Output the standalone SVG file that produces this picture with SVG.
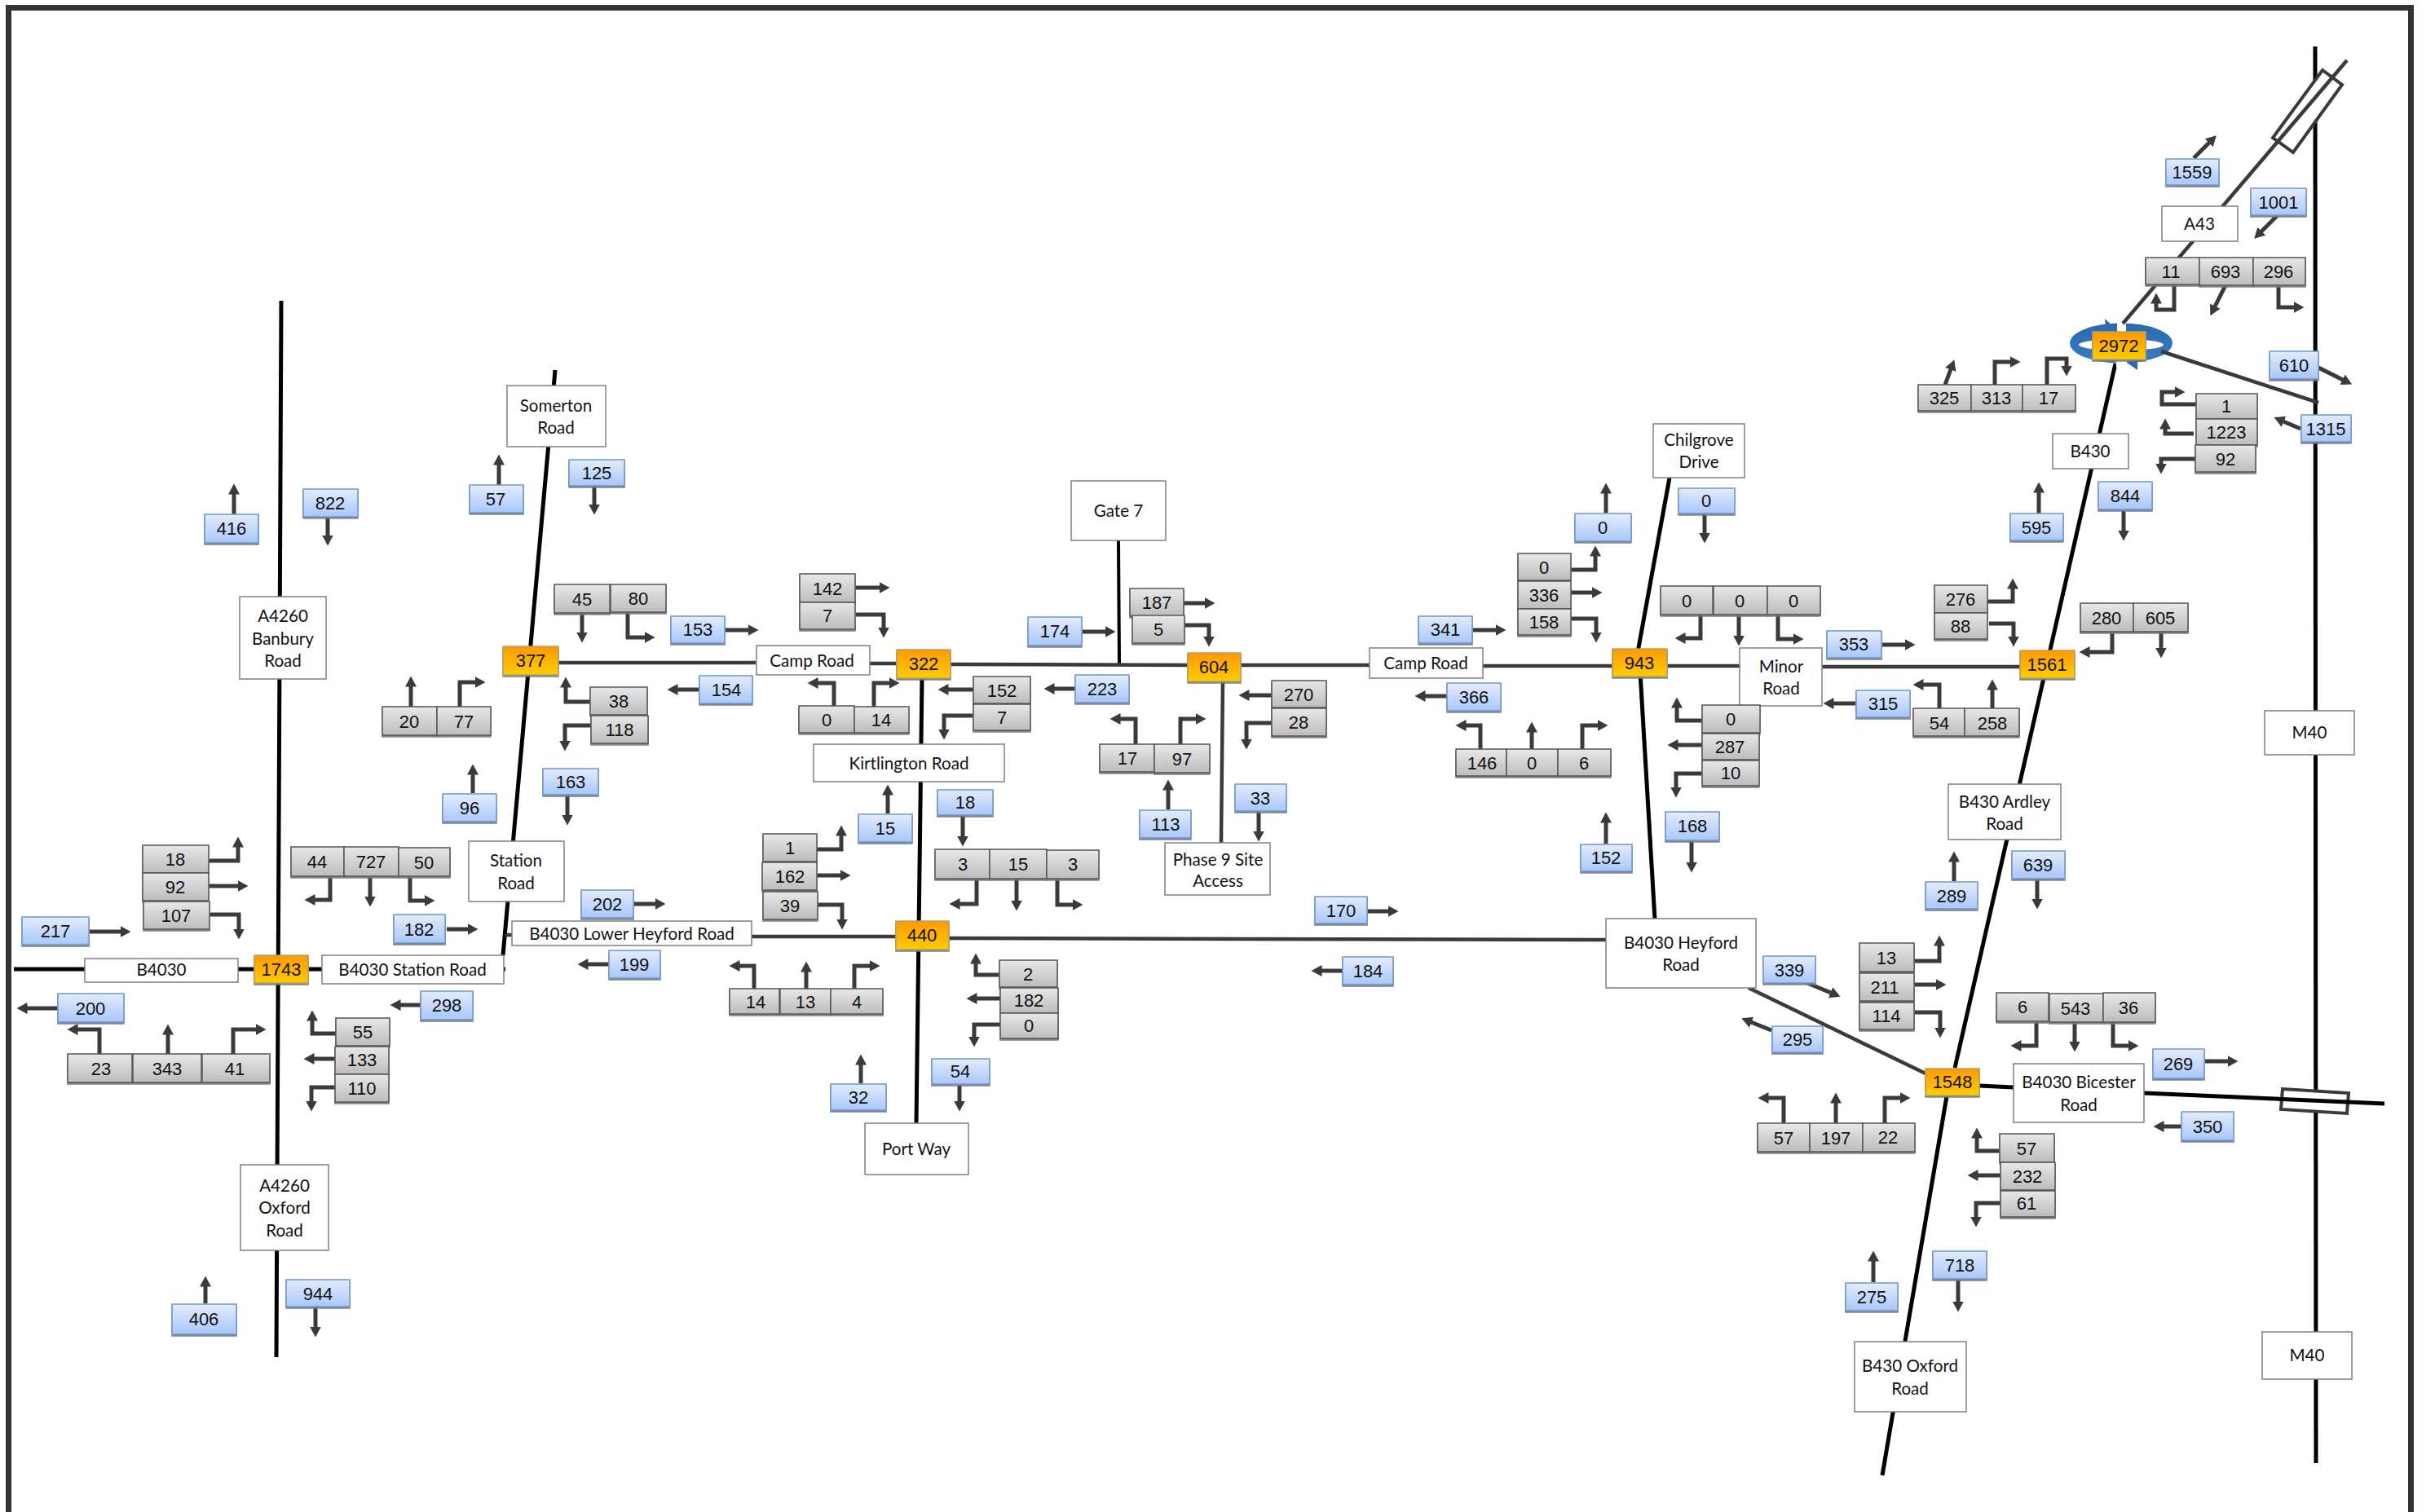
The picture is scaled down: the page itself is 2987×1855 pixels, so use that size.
<svg xmlns="http://www.w3.org/2000/svg" width="2987" height="1855" viewBox="0 0 2987 1855">
<style>
text{text-anchor:middle;fill:#111}
.n{font:22px "Liberation Sans",Arial,sans-serif}
.t{font:20.6px Lato,"Noto Sans",sans-serif}
.g{fill:url(#gg);stroke:#555;stroke-width:1.5;filter:url(#sh)}
.b{fill:url(#gb);stroke:#6f96cf;stroke-width:1.5;filter:url(#sh)}
.o{fill:url(#go);stroke:#b3a06a;stroke-width:1.5;filter:url(#sh)}
.l{fill:#fff;stroke:#808080;stroke-width:1.5}
.r{fill:none;stroke:#000;stroke-width:5}
.d{fill:none;stroke:#3a3a3a;stroke-width:4.5}
.a{fill:none;stroke:#3a3a3a;stroke-width:5;marker-end:url(#h)}
.x{fill:#fff;stroke:#3a3a3a;stroke-width:4}
</style>
<defs>
<linearGradient id="gg" x1="0" y1="0" x2="0" y2="1"><stop offset="0" stop-color="#e8e8e8"/><stop offset="1" stop-color="#bcbcbc"/></linearGradient>
<linearGradient id="gb" x1="0" y1="0" x2="0" y2="1"><stop offset="0" stop-color="#e4ecfc"/><stop offset="1" stop-color="#a8c7fb"/></linearGradient>
<linearGradient id="go" x1="0" y1="0" x2="0" y2="1"><stop offset="0" stop-color="#ff9900"/><stop offset="1" stop-color="#ffcc00"/></linearGradient>
<linearGradient id="gr" x1="0" y1="0" x2="0" y2="1"><stop offset="0" stop-color="#2a6ab0"/><stop offset="1" stop-color="#3a7abf"/></linearGradient>
<filter id="sh" x="-10%" y="-10%" width="120%" height="130%"><feDropShadow dx="0" dy="2" stdDeviation="0.6" flood-color="#777" flood-opacity="0.9"/></filter>
<marker id="h" markerUnits="userSpaceOnUse" markerWidth="15" markerHeight="15" refX="0.5" refY="7.5" orient="auto"><path d="M0,0.5L13,7.5L0,14.5Z" fill="#3a3a3a"/></marker>
</defs>
<rect id="frame" x="10.5" y="9.5" width="2947" height="1900" fill="#fff" stroke="#333" stroke-width="7"/>
<g id="connectors">
<path class="r" d="M2840,57L2841,1795"/>
<path class="r" d="M17,1189H620"/>
<path class="r" d="M345,369L339,1665"/>
<path class="r" d="M681,454L617,1172"/>
<path class="r" d="M1131,832L1124,1378"/>
<path class="r" d="M2048,586L2009,800"/>
<path class="r" d="M2012,825L2030,1128"/>
<path class="r" d="M2595,446L2398,1310"/>
<path class="r" d="M2388,1345L2309,1810"/>
<path class="r" d="M2428,1332L2470,1334"/>
<path class="r" style="stroke-width:4" d="M1372,663L1373,814"/>
<path class="d" d="M685,813H927"/>
<path class="d" d="M1067,814H1100"/>
<path class="d" d="M1166,815L1457,816"/>
<path class="d" d="M1522,816H1680"/>
<path class="d" d="M1819,817H1978"/>
<path class="d" d="M2045,817H2134"/>
<path class="d" d="M2235,818H2478"/>
<path class="d" d="M1500,836L1498,1034"/>
<path class="d" d="M620,1147H629"/>
<path class="d" d="M922,1149H1099"/>
<path class="d" d="M1164,1151L1970,1153"/>
<path class="d" d="M2145,1212L2362,1317"/>
<path class="x" d="M2849,86L2873,104L2813,187L2788,169Z"/>
<path class="x" d="M2800,1336L2881,1341L2879,1366L2798,1361Z"/>
<path class="r" d="M2630,1341L2925,1354"/>
<path id="roundabout" fill="url(#gr)" fill-rule="evenodd" d="M2539,421a63,24.5 0 1,0 126,0a63,24.5 0 1,0 -126,0ZM2550,423a52,7 0 1,0 104,0a52,7 0 1,0 -104,0Z"/>
<path fill="#2a6ab0" d="M2582,391L2597,405L2584,412ZM2622,454L2609,445L2622,438Z"/>
<path fill="#fff" d="M2597,394H2608V408H2597ZM2596,441H2609V451H2596Z"/>
<path class="d" d="M2879,74L2604,397"/>
<path class="d" d="M2651,431L2844,494"/>
<path class="a" d="M257,1056H292V1039"/>
<path class="a" d="M257,1087H292"/>
<path class="a" d="M258,1122H293V1140"/>
<path class="a" d="M110,1143H148"/>
<path class="a" d="M71,1237H33"/>
<path class="a" d="M122,1293V1263H95"/>
<path class="a" d="M206,1293V1269"/>
<path class="a" d="M286,1293V1263H314"/>
<path class="a" d="M405,1075V1104H386"/>
<path class="a" d="M454,1076V1100"/>
<path class="a" d="M503,1075V1105H521"/>
<path class="a" d="M548,1140H574"/>
<path class="a" d="M516,1233H491"/>
<path class="a" d="M412,1268H383V1252"/>
<path class="a" d="M411,1299H385"/>
<path class="a" d="M411,1334H382V1351"/>
<path class="a" d="M580,973V950"/>
<path class="a" d="M612,595V570"/>
<path class="a" d="M729,597V619"/>
<path class="a" d="M714,752V776"/>
<path class="a" d="M770,752V782H791"/>
<path class="a" d="M890,773H918"/>
<path class="a" d="M858,846H831"/>
<path class="a" d="M724,861H694V843"/>
<path class="a" d="M725,890H693V909"/>
<path class="a" d="M504,867V842"/>
<path class="a" d="M564,867V837H583"/>
<path class="a" d="M696,975V1000"/>
<path class="a" d="M287,631V606"/>
<path class="a" d="M402,634V657"/>
<path class="a" d="M252,1599V1578"/>
<path class="a" d="M387,1604V1628"/>
<path class="a" d="M1049,721H1079"/>
<path class="a" d="M1050,754H1084V770"/>
<path class="a" d="M1328,775H1356"/>
<path class="a" d="M1452,740H1478"/>
<path class="a" d="M1453,767H1483V781"/>
<path class="a" d="M1194,846H1163"/>
<path class="a" d="M1193,878H1158V895"/>
<path class="a" d="M1319,845H1293"/>
<path class="a" d="M1023,866V838H1003"/>
<path class="a" d="M1072,867V838H1091"/>
<path class="a" d="M1560,853H1532"/>
<path class="a" d="M1560,887H1529V907"/>
<path class="a" d="M1393,913V882H1374"/>
<path class="a" d="M1448,913V882H1467"/>
<path class="a" d="M1544,995V1020"/>
<path class="a" d="M1433,993V969"/>
<path class="a" d="M1089,998V975"/>
<path class="a" d="M1181,1001V1026"/>
<path class="a" d="M1198,1078V1109H1177"/>
<path class="a" d="M1247,1079V1105"/>
<path class="a" d="M1297,1078V1110H1316"/>
<path class="a" d="M1002,1042H1032V1025"/>
<path class="a" d="M1003,1074H1031"/>
<path class="a" d="M1003,1110H1033V1128"/>
<path class="a" d="M778,1109H804"/>
<path class="a" d="M747,1183H721"/>
<path class="a" d="M925,1213V1185H907"/>
<path class="a" d="M989,1213V1192"/>
<path class="a" d="M1048,1213V1185H1067"/>
<path class="a" d="M1056,1329V1306"/>
<path class="a" d="M1226,1196H1197V1182"/>
<path class="a" d="M1227,1225H1198"/>
<path class="a" d="M1227,1257H1195V1272"/>
<path class="a" d="M1177,1331V1351"/>
<path class="a" d="M1677,1118H1703"/>
<path class="a" d="M1647,1191H1621"/>
<path class="a" d="M2091,631V654"/>
<path class="a" d="M1970,629V605"/>
<path class="a" d="M1927,699H1957V682"/>
<path class="a" d="M1927,727H1953"/>
<path class="a" d="M1928,759H1958V776"/>
<path class="a" d="M1807,773H1835"/>
<path class="a" d="M1775,854H1748"/>
<path class="a" d="M1816,919V890H1798"/>
<path class="a" d="M1879,919V898"/>
<path class="a" d="M1941,919V890H1960"/>
<path class="a" d="M2086,754V783H2067"/>
<path class="a" d="M2133,755V780"/>
<path class="a" d="M2181,754V784H2200"/>
<path class="a" d="M2088,884H2057V868"/>
<path class="a" d="M2088,914H2058"/>
<path class="a" d="M2087,949H2056V966"/>
<path class="a" d="M2075,1031V1058"/>
<path class="a" d="M1970,1035V1009"/>
<path class="a" d="M2501,630V604"/>
<path class="a" d="M2605,627V651"/>
<path class="a" d="M2438,738H2469V722"/>
<path class="a" d="M2440,765H2470V781"/>
<path class="a" d="M2309,791H2337"/>
<path class="a" d="M2591,775V800H2563"/>
<path class="a" d="M2651,775V795"/>
<path class="a" d="M2277,863H2249"/>
<path class="a" d="M2379,869V840H2359"/>
<path class="a" d="M2444,869V846"/>
<path class="a" d="M2397,1081V1057"/>
<path class="a" d="M2499,1079V1103"/>
<path class="a" d="M2217,1206L2246,1218"/>
<path class="a" d="M2173,1264L2148,1254"/>
<path class="a" d="M2348,1179H2379V1160"/>
<path class="a" d="M2348,1208H2375"/>
<path class="a" d="M2349,1242H2380V1261"/>
<path class="a" d="M2188,1378V1347H2169"/>
<path class="a" d="M2252,1378V1353"/>
<path class="a" d="M2312,1378V1347H2331"/>
<path class="a" d="M2298,1573V1547"/>
<path class="a" d="M2402,1570V1597"/>
<path class="a" d="M2498,1253V1283H2479"/>
<path class="a" d="M2545,1254V1278"/>
<path class="a" d="M2592,1253V1283H2611"/>
<path class="a" d="M2705,1302H2733"/>
<path class="a" d="M2676,1382H2654"/>
<path class="a" d="M2453,1412H2425V1396"/>
<path class="a" d="M2454,1442H2426"/>
<path class="a" d="M2454,1476H2424V1493"/>
<path class="a" d="M2691,194L2710,175"/>
<path class="a" d="M2793,265L2774,284"/>
<path class="a" d="M2667,349V380H2645V372"/>
<path class="a" d="M2730,350L2717,376"/>
<path class="a" d="M2795,350V377H2814"/>
<path class="a" d="M2386,472L2393,453"/>
<path class="a" d="M2447,472V444H2466"/>
<path class="a" d="M2511,472V440H2535V449"/>
<path class="a" d="M2844,451L2874,466"/>
<path class="a" d="M2822,526L2801,517"/>
<path class="a" d="M2694,496H2652V481H2668"/>
<path class="a" d="M2691,532H2656V526"/>
<path class="a" d="M2693,563H2651V569"/>
</g>
<g id="lab-b4030"><rect class="l" x="104" y="1176" width="188" height="29"/><text class="t" x="198" y="1197">B4030</text></g>
<g id="lab-station-rd"><rect class="l" x="395" y="1172" width="223" height="35"/><text class="t" x="506" y="1197">B4030 Station Road</text></g>
<g id="lab-station"><rect class="l" x="575" y="1032" width="117" height="74"/><text class="t" x="633" y="1063">Station</text><text class="t" x="633" y="1091">Road</text></g>
<g id="lab-banbury"><rect class="l" x="294" y="732" width="106" height="101"/><text class="t" x="347" y="763">A4260</text><text class="t" x="347" y="791">Banbury</text><text class="t" x="347" y="818">Road</text></g>
<g id="lab-oxford"><rect class="l" x="295" y="1429" width="108" height="105"/><text class="t" x="349" y="1462">A4260</text><text class="t" x="349" y="1489">Oxford</text><text class="t" x="349" y="1517">Road</text></g>
<g id="lab-somerton"><rect class="l" x="622" y="473" width="121" height="75"/><text class="t" x="682" y="505">Somerton</text><text class="t" x="682" y="532">Road</text></g>
<g id="lab-camp1"><rect class="l" x="928" y="792" width="139" height="36"/><text class="t" x="996" y="818">Camp Road</text></g>
<g id="lab-kirtlington"><rect class="l" x="998" y="913" width="234" height="46"/><text class="t" x="1115" y="944">Kirtlington Road</text></g>
<g id="lab-lower-heyford"><rect class="l" x="628" y="1130" width="294" height="30"/><text class="t" x="775" y="1153">B4030 Lower Heyford Road</text></g>
<g id="lab-portway"><rect class="l" x="1061" y="1378" width="127" height="63"/><text class="t" x="1124" y="1417">Port Way</text></g>
<g id="lab-gate7"><rect class="l" x="1314" y="590" width="116" height="73"/><text class="t" x="1372" y="634">Gate 7</text></g>
<g id="lab-phase9"><rect class="l" x="1429" y="1034" width="129" height="64"/><text class="t" x="1494" y="1062">Phase 9 Site</text><text class="t" x="1494" y="1088">Access</text></g>
<g id="lab-camp2"><rect class="l" x="1680" y="795" width="139" height="37"/><text class="t" x="1749" y="821">Camp Road</text></g>
<g id="lab-chilgrove"><rect class="l" x="2028" y="520" width="112" height="66"/><text class="t" x="2084" y="547">Chilgrove</text><text class="t" x="2084" y="574">Drive</text></g>
<g id="lab-minor"><rect class="l" x="2134" y="795" width="101" height="71"/><text class="t" x="2185" y="825">Minor</text><text class="t" x="2185" y="852">Road</text></g>
<g id="lab-ardley"><rect class="l" x="2390" y="962" width="138" height="68"/><text class="t" x="2459" y="991">B430 Ardley</text><text class="t" x="2459" y="1018">Road</text></g>
<g id="lab-heyford"><rect class="l" x="1970" y="1127" width="184" height="85"/><text class="t" x="2062" y="1164">B4030 Heyford</text><text class="t" x="2062" y="1191">Road</text></g>
<g id="lab-bicester"><rect class="l" x="2470" y="1305" width="160" height="72"/><text class="t" x="2550" y="1335">B4030 Bicester</text><text class="t" x="2550" y="1363">Road</text></g>
<g id="lab-b430ox"><rect class="l" x="2275" y="1646" width="137" height="86"/><text class="t" x="2343" y="1683">B430 Oxford</text><text class="t" x="2343" y="1711">Road</text></g>
<g id="lab-m40a"><rect class="l" x="2778" y="872" width="110" height="54"/><text class="t" x="2833" y="906">M40</text></g>
<g id="lab-m40b"><rect class="l" x="2775" y="1634" width="110" height="58"/><text class="t" x="2830" y="1670">M40</text></g>
<g id="lab-a43"><rect class="l" x="2652" y="253" width="93" height="43"/><text class="t" x="2698" y="282">A43</text></g>
<g id="lab-b430"><rect class="l" x="2518" y="532" width="93" height="43"/><text class="t" x="2564" y="561">B430</text></g>

<g id="j1743"><rect class="o" x="312" y="1172" width="66" height="34"/><text class="n" x="345" y="1197">1743</text></g>
<g id="j377"><rect class="o" x="617" y="793" width="68" height="35"/><text class="n" x="651" y="818">377</text></g>
<g id="j322"><rect class="o" x="1100" y="797" width="66" height="35"/><text class="n" x="1133" y="822">322</text></g>
<g id="j604"><rect class="o" x="1457" y="801" width="65" height="35"/><text class="n" x="1489" y="826">604</text></g>
<g id="j440"><rect class="o" x="1099" y="1130" width="65" height="35"/><text class="n" x="1131" y="1155">440</text></g>
<g id="j943"><rect class="o" x="1978" y="796" width="67" height="34"/><text class="n" x="2011" y="821">943</text></g>
<g id="j1561"><rect class="o" x="2478" y="798" width="67" height="34"/><text class="n" x="2511" y="823">1561</text></g>
<g id="j1548"><rect class="o" x="2362" y="1311" width="66" height="33"/><text class="n" x="2395" y="1335">1548</text></g>
<g id="j2972"><rect class="o" x="2567" y="407" width="65" height="34"/><text class="n" x="2599" y="432">2972</text></g>

<g id="b217"><rect class="b" x="27" y="1125" width="82" height="34"/><text class="n" x="68" y="1150">217</text></g>
<g id="b200"><rect class="b" x="71" y="1219" width="81" height="35"/><text class="n" x="111" y="1245">200</text></g>
<g id="b182a"><rect class="b" x="483" y="1122" width="63" height="35"/><text class="n" x="514" y="1148">182</text></g>
<g id="b298"><rect class="b" x="516" y="1216" width="64" height="35"/><text class="n" x="548" y="1241">298</text></g>
<g id="b96"><rect class="b" x="543" y="974" width="66" height="34"/><text class="n" x="576" y="999">96</text></g>
<g id="b416"><rect class="b" x="251" y="631" width="66" height="35"/><text class="n" x="284" y="656">416</text></g>
<g id="b822"><rect class="b" x="372" y="600" width="67" height="34"/><text class="n" x="405" y="625">822</text></g>
<g id="b406"><rect class="b" x="211" y="1600" width="79" height="37"/><text class="n" x="250" y="1626">406</text></g>
<g id="b944"><rect class="b" x="351" y="1570" width="78" height="33"/><text class="n" x="390" y="1595">944</text></g>
<g id="b57a"><rect class="b" x="576" y="595" width="66" height="34"/><text class="n" x="608" y="620">57</text></g>
<g id="b125"><rect class="b" x="698" y="564" width="68" height="32"/><text class="n" x="732" y="588">125</text></g>
<g id="b153"><rect class="b" x="823" y="756" width="66" height="33"/><text class="n" x="856" y="780">153</text></g>
<g id="b154"><rect class="b" x="858" y="829" width="65" height="34"/><text class="n" x="891" y="854">154</text></g>
<g id="b163"><rect class="b" x="666" y="943" width="68" height="32"/><text class="n" x="700" y="967">163</text></g>
<g id="b174"><rect class="b" x="1261" y="757" width="66" height="35"/><text class="n" x="1294" y="782">174</text></g>
<g id="b223"><rect class="b" x="1319" y="828" width="66" height="34"/><text class="n" x="1352" y="853">223</text></g>
<g id="b33"><rect class="b" x="1515" y="962" width="63" height="33"/><text class="n" x="1546" y="987">33</text></g>
<g id="b113"><rect class="b" x="1398" y="994" width="63" height="34"/><text class="n" x="1430" y="1019">113</text></g>
<g id="b15"><rect class="b" x="1053" y="999" width="66" height="34"/><text class="n" x="1086" y="1024">15</text></g>
<g id="b18"><rect class="b" x="1150" y="969" width="68" height="31"/><text class="n" x="1184" y="992">18</text></g>
<g id="b202"><rect class="b" x="713" y="1092" width="64" height="34"/><text class="n" x="745" y="1117">202</text></g>
<g id="b199"><rect class="b" x="747" y="1166" width="63" height="34"/><text class="n" x="778" y="1191">199</text></g>
<g id="b32"><rect class="b" x="1019" y="1330" width="68" height="32"/><text class="n" x="1053" y="1354">32</text></g>
<g id="b54"><rect class="b" x="1143" y="1299" width="71" height="31"/><text class="n" x="1178" y="1322">54</text></g>
<g id="b170"><rect class="b" x="1613" y="1100" width="64" height="33"/><text class="n" x="1645" y="1125">170</text></g>
<g id="b184"><rect class="b" x="1647" y="1174" width="62" height="34"/><text class="n" x="1678" y="1199">184</text></g>
<g id="b0a"><rect class="b" x="2059" y="599" width="69" height="31"/><text class="n" x="2093" y="622">0</text></g>
<g id="b0b"><rect class="b" x="1932" y="630" width="69" height="34"/><text class="n" x="1966" y="655">0</text></g>
<g id="b341"><rect class="b" x="1740" y="756" width="66" height="33"/><text class="n" x="1773" y="780">341</text></g>
<g id="b366"><rect class="b" x="1775" y="838" width="66" height="34"/><text class="n" x="1808" y="863">366</text></g>
<g id="b168"><rect class="b" x="2043" y="996" width="66" height="35"/><text class="n" x="2076" y="1021">168</text></g>
<g id="b152"><rect class="b" x="1939" y="1036" width="63" height="33"/><text class="n" x="1970" y="1060">152</text></g>
<g id="b595"><rect class="b" x="2466" y="630" width="65" height="33"/><text class="n" x="2498" y="655">595</text></g>
<g id="b844"><rect class="b" x="2574" y="591" width="66" height="34"/><text class="n" x="2607" y="616">844</text></g>
<g id="b353"><rect class="b" x="2241" y="774" width="67" height="33"/><text class="n" x="2274" y="798">353</text></g>
<g id="b315"><rect class="b" x="2277" y="847" width="66" height="33"/><text class="n" x="2310" y="871">315</text></g>
<g id="b289"><rect class="b" x="2362" y="1082" width="64" height="33"/><text class="n" x="2394" y="1107">289</text></g>
<g id="b639"><rect class="b" x="2468" y="1044" width="65" height="34"/><text class="n" x="2500" y="1069">639</text></g>
<g id="b339"><rect class="b" x="2163" y="1173" width="64" height="33"/><text class="n" x="2195" y="1198">339</text></g>
<g id="b295"><rect class="b" x="2174" y="1259" width="62" height="32"/><text class="n" x="2205" y="1283">295</text></g>
<g id="b275"><rect class="b" x="2264" y="1574" width="64" height="34"/><text class="n" x="2296" y="1599">275</text></g>
<g id="b718"><rect class="b" x="2371" y="1535" width="66" height="34"/><text class="n" x="2404" y="1560">718</text></g>
<g id="b269"><rect class="b" x="2641" y="1287" width="63" height="36"/><text class="n" x="2672" y="1313">269</text></g>
<g id="b350"><rect class="b" x="2676" y="1364" width="64" height="35"/><text class="n" x="2708" y="1390">350</text></g>
<g id="b1559"><rect class="b" x="2657" y="195" width="65" height="32"/><text class="n" x="2689" y="219">1559</text></g>
<g id="b1001"><rect class="b" x="2761" y="231" width="68" height="33"/><text class="n" x="2795" y="256">1001</text></g>
<g id="b610"><rect class="b" x="2784" y="431" width="60" height="34"/><text class="n" x="2814" y="456">610</text></g>
<g id="b1315"><rect class="b" x="2823" y="509" width="61" height="33"/><text class="n" x="2853" y="534">1315</text></g>

<g id="q18"><rect class="g" x="175" y="1037" width="81" height="34"/><text class="n" x="215" y="1062">18</text></g>
<g id="q92"><rect class="g" x="175" y="1071" width="81" height="34"/><text class="n" x="215" y="1096">92</text></g>
<g id="q107"><rect class="g" x="176" y="1106" width="81" height="34"/><text class="n" x="216" y="1131">107</text></g>
<g id="q44"><rect class="g" x="357" y="1039" width="65" height="36"/><text class="n" x="389" y="1065">44</text></g>
<g id="q727"><rect class="g" x="422" y="1039" width="67" height="36"/><text class="n" x="455" y="1065">727</text></g>
<g id="q50"><rect class="g" x="489" y="1040" width="63" height="35"/><text class="n" x="520" y="1066">50</text></g>
<g id="q23"><rect class="g" x="83" y="1293" width="79" height="35"/><text class="n" x="124" y="1319">23</text></g>
<g id="q343"><rect class="g" x="163" y="1293" width="84" height="35"/><text class="n" x="205" y="1319">343</text></g>
<g id="q41"><rect class="g" x="248" y="1293" width="83" height="35"/><text class="n" x="288" y="1319">41</text></g>
<g id="q55"><rect class="g" x="412" y="1249" width="66" height="34"/><text class="n" x="445" y="1274">55</text></g>
<g id="q133"><rect class="g" x="411" y="1284" width="66" height="34"/><text class="n" x="444" y="1308">133</text></g>
<g id="q110"><rect class="g" x="411" y="1318" width="66" height="34"/><text class="n" x="444" y="1343">110</text></g>
<g id="q45"><rect class="g" x="680" y="717" width="68" height="35"/><text class="n" x="714" y="743">45</text></g>
<g id="q80"><rect class="g" x="749" y="717" width="68" height="34"/><text class="n" x="783" y="742">80</text></g>
<g id="q38"><rect class="g" x="724" y="843" width="70" height="34"/><text class="n" x="759" y="868">38</text></g>
<g id="q118"><rect class="g" x="725" y="878" width="70" height="34"/><text class="n" x="760" y="903">118</text></g>
<g id="q20"><rect class="g" x="469" y="867" width="67" height="35"/><text class="n" x="502" y="893">20</text></g>
<g id="q77"><rect class="g" x="536" y="867" width="66" height="35"/><text class="n" x="569" y="893">77</text></g>
<g id="q142"><rect class="g" x="981" y="704" width="68" height="35"/><text class="n" x="1015" y="730">142</text></g>
<g id="q7a"><rect class="g" x="981" y="739" width="68" height="33"/><text class="n" x="1015" y="763">7</text></g>
<g id="q187"><rect class="g" x="1386" y="722" width="66" height="34"/><text class="n" x="1419" y="747">187</text></g>
<g id="q5"><rect class="g" x="1389" y="755" width="64" height="34"/><text class="n" x="1421" y="780">5</text></g>
<g id="q152"><rect class="g" x="1194" y="830" width="70" height="33"/><text class="n" x="1229" y="855">152</text></g>
<g id="q7b"><rect class="g" x="1194" y="864" width="70" height="32"/><text class="n" x="1229" y="888">7</text></g>
<g id="q0a"><rect class="g" x="980" y="866" width="68" height="33"/><text class="n" x="1014" y="891">0</text></g>
<g id="q14a"><rect class="g" x="1048" y="867" width="67" height="32"/><text class="n" x="1081" y="891">14</text></g>
<g id="q270"><rect class="g" x="1560" y="835" width="67" height="33"/><text class="n" x="1593" y="860">270</text></g>
<g id="q28"><rect class="g" x="1560" y="869" width="67" height="34"/><text class="n" x="1593" y="894">28</text></g>
<g id="q17a"><rect class="g" x="1349" y="913" width="67" height="34"/><text class="n" x="1383" y="938">17</text></g>
<g id="q97"><rect class="g" x="1416" y="913" width="68" height="35"/><text class="n" x="1450" y="939">97</text></g>
<g id="q3a"><rect class="g" x="1147" y="1042" width="67" height="36"/><text class="n" x="1181" y="1068">3</text></g>
<g id="q15"><rect class="g" x="1214" y="1042" width="70" height="36"/><text class="n" x="1249" y="1068">15</text></g>
<g id="q3b"><rect class="g" x="1284" y="1043" width="64" height="35"/><text class="n" x="1316" y="1068">3</text></g>
<g id="q1a"><rect class="g" x="936" y="1023" width="66" height="34"/><text class="n" x="969" y="1048">1</text></g>
<g id="q162"><rect class="g" x="935" y="1058" width="67" height="34"/><text class="n" x="969" y="1083">162</text></g>
<g id="q39"><rect class="g" x="936" y="1094" width="67" height="34"/><text class="n" x="969" y="1119">39</text></g>
<g id="q14b"><rect class="g" x="895" y="1213" width="61" height="31"/><text class="n" x="927" y="1237">14</text></g>
<g id="q13a"><rect class="g" x="957" y="1213" width="62" height="31"/><text class="n" x="988" y="1237">13</text></g>
<g id="q4"><rect class="g" x="1019" y="1213" width="64" height="31"/><text class="n" x="1051" y="1237">4</text></g>
<g id="q2"><rect class="g" x="1226" y="1178" width="71" height="33"/><text class="n" x="1261" y="1203">2</text></g>
<g id="q182b"><rect class="g" x="1227" y="1212" width="71" height="31"/><text class="n" x="1262" y="1235">182</text></g>
<g id="q0b"><rect class="g" x="1227" y="1243" width="71" height="31"/><text class="n" x="1262" y="1266">0</text></g>
<g id="q0c"><rect class="g" x="1862" y="679" width="65" height="33"/><text class="n" x="1894" y="704">0</text></g>
<g id="q336"><rect class="g" x="1862" y="713" width="65" height="34"/><text class="n" x="1894" y="738">336</text></g>
<g id="q158"><rect class="g" x="1862" y="747" width="65" height="32"/><text class="n" x="1894" y="771">158</text></g>
<g id="q146"><rect class="g" x="1786" y="919" width="62" height="33"/><text class="n" x="1818" y="944">146</text></g>
<g id="q0d"><rect class="g" x="1848" y="919" width="63" height="33"/><text class="n" x="1879" y="944">0</text></g>
<g id="q6a"><rect class="g" x="1911" y="919" width="65" height="33"/><text class="n" x="1943" y="944">6</text></g>
<g id="q0e"><rect class="g" x="2037" y="719" width="64" height="35"/><text class="n" x="2069" y="745">0</text></g>
<g id="q0f"><rect class="g" x="2102" y="719" width="66" height="35"/><text class="n" x="2134" y="745">0</text></g>
<g id="q0g"><rect class="g" x="2168" y="719" width="65" height="35"/><text class="n" x="2200" y="745">0</text></g>
<g id="q0h"><rect class="g" x="2088" y="865" width="71" height="34"/><text class="n" x="2123" y="890">0</text></g>
<g id="q287"><rect class="g" x="2088" y="900" width="70" height="32"/><text class="n" x="2122" y="924">287</text></g>
<g id="q10"><rect class="g" x="2088" y="933" width="70" height="31"/><text class="n" x="2123" y="956">10</text></g>
<g id="q276"><rect class="g" x="2373" y="718" width="65" height="34"/><text class="n" x="2405" y="743">276</text></g>
<g id="q88"><rect class="g" x="2373" y="752" width="65" height="32"/><text class="n" x="2405" y="776">88</text></g>
<g id="q280"><rect class="g" x="2552" y="740" width="65" height="35"/><text class="n" x="2584" y="766">280</text></g>
<g id="q605"><rect class="g" x="2617" y="740" width="67" height="35"/><text class="n" x="2650" y="766">605</text></g>
<g id="q54"><rect class="g" x="2347" y="869" width="63" height="34"/><text class="n" x="2379" y="895">54</text></g>
<g id="q258"><rect class="g" x="2410" y="869" width="67" height="34"/><text class="n" x="2444" y="895">258</text></g>
<g id="q13b"><rect class="g" x="2281" y="1157" width="67" height="35"/><text class="n" x="2314" y="1183">13</text></g>
<g id="q211"><rect class="g" x="2281" y="1194" width="67" height="34"/><text class="n" x="2312" y="1219">211</text></g>
<g id="q114"><rect class="g" x="2281" y="1230" width="67" height="33"/><text class="n" x="2314" y="1254">114</text></g>
<g id="q57a"><rect class="g" x="2156" y="1378" width="64" height="35"/><text class="n" x="2188" y="1404">57</text></g>
<g id="q197"><rect class="g" x="2220" y="1378" width="65" height="35"/><text class="n" x="2252" y="1404">197</text></g>
<g id="q22"><rect class="g" x="2285" y="1378" width="64" height="35"/><text class="n" x="2316" y="1403">22</text></g>
<g id="q6b"><rect class="g" x="2449" y="1218" width="64" height="35"/><text class="n" x="2481" y="1243">6</text></g>
<g id="q543"><rect class="g" x="2514" y="1219" width="66" height="35"/><text class="n" x="2546" y="1245">543</text></g>
<g id="q36"><rect class="g" x="2580" y="1218" width="64" height="36"/><text class="n" x="2611" y="1244">36</text></g>
<g id="q57b"><rect class="g" x="2453" y="1391" width="67" height="35"/><text class="n" x="2486" y="1417">57</text></g>
<g id="q232"><rect class="g" x="2454" y="1426" width="67" height="34"/><text class="n" x="2487" y="1451">232</text></g>
<g id="q61"><rect class="g" x="2454" y="1461" width="67" height="32"/><text class="n" x="2486" y="1484">61</text></g>
<g id="q11"><rect class="g" x="2632" y="316" width="66" height="33"/><text class="n" x="2663" y="341">11</text></g>
<g id="q693"><rect class="g" x="2698" y="316" width="66" height="34"/><text class="n" x="2730" y="341">693</text></g>
<g id="q296"><rect class="g" x="2764" y="316" width="64" height="34"/><text class="n" x="2795" y="341">296</text></g>
<g id="q325"><rect class="g" x="2353" y="472" width="65" height="32"/><text class="n" x="2385" y="496">325</text></g>
<g id="q313"><rect class="g" x="2418" y="472" width="63" height="32"/><text class="n" x="2449" y="496">313</text></g>
<g id="q17b"><rect class="g" x="2481" y="472" width="65" height="32"/><text class="n" x="2513" y="496">17</text></g>
<g id="q1b"><rect class="g" x="2694" y="483" width="75" height="31"/><text class="n" x="2731" y="506">1</text></g>
<g id="q1223"><rect class="g" x="2694" y="514" width="75" height="32"/><text class="n" x="2731" y="538">1223</text></g>
<g id="q92b"><rect class="g" x="2693" y="546" width="74" height="33"/><text class="n" x="2730" y="571">92</text></g>
</svg>
